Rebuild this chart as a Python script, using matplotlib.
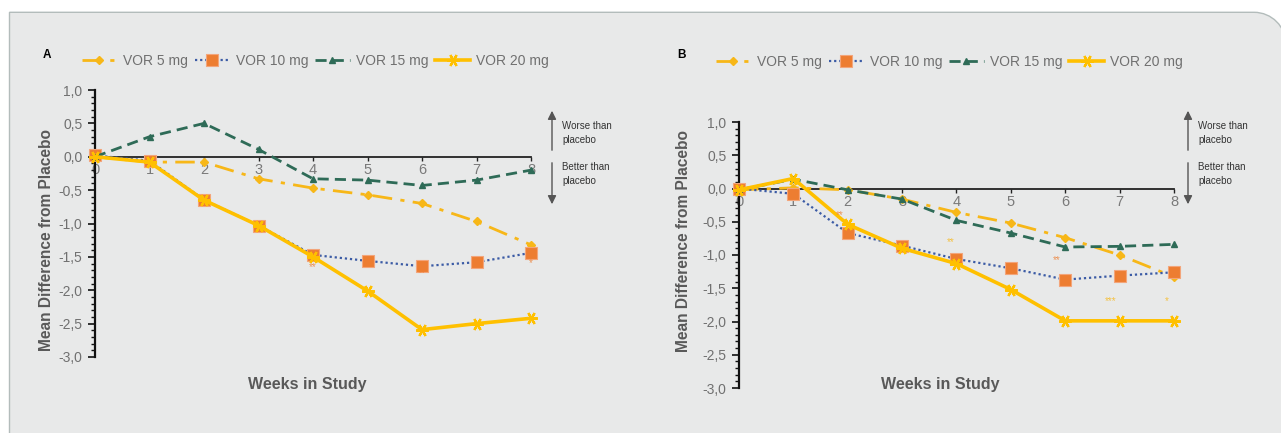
import matplotlib
matplotlib.use("Agg")
import matplotlib.pyplot as plt
from matplotlib.patches import PathPatch, FancyArrowPatch
from matplotlib.path import Path
from matplotlib.ticker import MultipleLocator, FuncFormatter

plt.rcParams['font.family'] = ['Liberation Sans', 'DejaVu Sans']

# ---------------- data ----------------
weeks = [0, 1, 2, 3, 4, 5, 6, 7, 8]
series_names = ["VOR 5 mg", "VOR 10 mg", "VOR 15 mg", "VOR 20 mg"]

a_vor5 = [0.0, -0.08, -0.08, -0.33, -0.47, -0.57, -0.70, -0.97, -1.32]
a_vor10 = [0.02, -0.06, -0.645, -1.03, -1.47, -1.56, -1.64, -1.58, -1.44]
a_vor15 = [0.0, 0.30, 0.50, 0.11, -0.33, -0.35, -0.43, -0.35, -0.20]
a_vor20 = [0.0, -0.08, -0.65, -1.03, -1.50, -2.01, -2.59, -2.50, -2.42]

b_vor5 = [-0.02, 0.01, -0.02, -0.16, -0.36, -0.52, -0.74, -1.00, -1.33]
b_vor10 = [0.0, -0.08, -0.67, -0.86, -1.06, -1.20, -1.37, -1.31, -1.26]
b_vor15 = [-0.02, 0.14, -0.02, -0.16, -0.48, -0.67, -0.88, -0.87, -0.84]
b_vor20 = [-0.02, 0.15, -0.54, -0.90, -1.13, -1.52, -1.99, -1.99, -1.99]

# significance marks: (week, value, text, series index)
a_sig = [(4.0, -1.65, "**", 1), (6.0, -1.75, "**", 1), (8.0, -1.60, "*", 1)]
b_sig = [(1.86, -0.40, "**", 1), (3.89, -0.81, "**", 0), (5.84, -1.07, "**", 1),
         (6.84, -1.69, "***", 0), (7.86, -1.69, "*", 0)]

yticks = [1.0, 0.5, 0.0, -0.5, -1.0, -1.5, -2.0, -2.5, -3.0]

# ---------------- styles ----------------
W, H = 1281, 433
YEL5 = "#F7B718"
YEL20 = "#FFC000"
ORANGE = "#ED7D31"
BLUE = "#3B5BA5"
GREEN = "#2E6B57"
GREY = "#707070"
sig_colors = [YEL5, ORANGE]

styles = [
    dict(color=YEL5, ls=(0, (7, 3, 1.5, 3)), lw=2.0, marker="D", ms=4, mfc=YEL5, mec=YEL5),
    dict(color=BLUE, ls=(0, (1, 1.3)), lw=1.6, marker="s", ms=8, mfc=ORANGE, mec="#F3A57A", mew=0.8),
    dict(color=GREEN, ls=(0, (4, 2.2)), lw=2.0, marker="^", ms=5, mfc=GREEN, mec=GREEN),
    dict(color=YEL20, ls="-", lw=2.6, marker=(6, 2, 90), ms=9, mfc=YEL20, mec=YEL20, mew=1.6),
]

fig = plt.figure(figsize=(W / 100, H / 100), dpi=100)
fig.patch.set_facecolor("white")

# panel background: square corners except a rounded top-right corner (pixel coords)
x0, y0, x1, y1, r = 9.5, H - 12.3, 1286.0, -10.0, 32.0
k = 0.5523 * r
verts = [(x0, y1), (x0, y0), (x1 - r, y0),
         (x1 - r + k, y0), (x1, y0 - r + k), (x1, y0 - r),
         (x1, y1), (x0, y1)]
codes = [Path.MOVETO, Path.LINETO, Path.LINETO,
         Path.CURVE4, Path.CURVE4, Path.CURVE4,
         Path.LINETO, Path.CLOSEPOLY]
verts = [(vx / 100, vy / 100) for vx, vy in verts]
panel = PathPatch(Path(verts, codes), transform=fig.dpi_scale_trans,
                  facecolor="#e8e9e9", edgecolor="#b3bcbb", lw=1.0, zorder=-10)
fig.patches.append(panel)


def ax_from_px(left, right, top, bottom):
    return fig.add_axes([left / W, 1 - bottom / H, (right - left) / W, (bottom - top) / H])


def fmt(v, pos):
    if abs(v) < 1e-9:
        v = 0.0
    return f"{v:.1f}".replace(".", ",")


def draw_panel(ax, data, sigs):
    ax.patch.set_visible(False)
    ax.set_xlim(0, 8)
    ax.set_ylim(-3.0, 1.0)
    for sp in ("top", "right"):
        ax.spines[sp].set_visible(False)
    ax.spines["bottom"].set_position(("data", 0))
    ax.spines["bottom"].set_color("#222222")
    ax.spines["bottom"].set_linewidth(1.3)
    ax.spines["left"].set_color("#111111")
    ax.spines["left"].set_linewidth(1.6)
    ax.set_xticks(weeks)
    ax.set_yticks(yticks)
    ax.yaxis.set_minor_locator(MultipleLocator(0.1))
    ax.yaxis.set_major_formatter(FuncFormatter(fmt))
    ax.tick_params(axis="y", which="major", length=5, width=1.2, color="#111111",
                   labelsize=10, labelcolor=GREY, pad=4)
    ax.tick_params(axis="y", which="minor", length=3, width=1.0, color="#111111")
    ax.tick_params(axis="x", length=3, width=1.0, color="#222222", labelsize=10.5,
                   labelcolor="#7a7a7a", pad=1.5)
    for vals, st, name in zip(data, styles, series_names):
        ax.plot(weeks, vals, label=name, clip_on=False, zorder=3, **st)
    for x, y, t, si in sigs:
        ax.text(x, y, t, color=sig_colors[si], fontsize=7, ha="center", va="center",
                alpha=0.8, zorder=4)


axA = ax_from_px(95, 531, 90, 357)
draw_panel(axA, [a_vor5, a_vor10, a_vor15, a_vor20], a_sig)
axB = ax_from_px(739, 1174, 122, 388)
draw_panel(axB, [b_vor5, b_vor10, b_vor15, b_vor20], b_sig)


def legend_for(ax, cx, cy):
    handles, labels = ax.get_legend_handles_labels()
    fig.legend(handles, labels, loc="center", bbox_to_anchor=(cx / W, 1 - cy / H),
               ncol=4, frameon=False, fontsize=10, labelcolor=GREY,
               handlelength=2.5, handletextpad=0.45, columnspacing=0.5)


legend_for(axA, (83 + 548) / 2, 61)
legend_for(axB, (716 + 1183) / 2, 62)

# panel letters
fig.text(47 / W, 1 - 55 / H, "A", fontsize=8.5, fontweight="bold", ha="center", va="center")
fig.text(681 / W, 1 - 55 / H, "B", fontsize=8.5, fontweight="bold", ha="center", va="center")

# axis titles
for x, y in [(307, 385), (940, 385)]:
    fig.text(x / W, 1 - y / H, "Weeks in Study", fontsize=11.5, fontweight="bold",
             color="#595959", ha="center", va="center")
for x, y in [(47, 240), (683, 241)]:
    fig.text(x / W, 1 - y / H, "Mean Difference from Placebo", fontsize=11.2,
             fontweight="bold", color="#595959", ha="center", va="center", rotation=90)

# worse/better arrows
for ax_x, tx in [(552, 562), (1188, 1198)]:
    fig.add_artist(FancyArrowPatch(
        (ax_x / W, 1 - 153 / H), (ax_x / W, 1 - 108 / H), transform=fig.transFigure,
        arrowstyle="-|>,head_length=5,head_width=2.5", color="#555555", lw=1.0))
    fig.add_artist(FancyArrowPatch(
        (ax_x / W, 1 - 160 / H), (ax_x / W, 1 - 207 / H), transform=fig.transFigure,
        arrowstyle="-|>,head_length=5,head_width=2.5", color="#555555", lw=1.0))
    fig.text(tx / W, 1 - 133 / H, "Worse than\nplacebo", fontsize=7, color="#333333",
             ha="left", va="center", linespacing=1.5)
    fig.text(tx / W, 1 - 174 / H, "Better than\nplacebo", fontsize=7, color="#333333",
             ha="left", va="center", linespacing=1.5)

fig.savefig("out.png", dpi=100, facecolor="white")
